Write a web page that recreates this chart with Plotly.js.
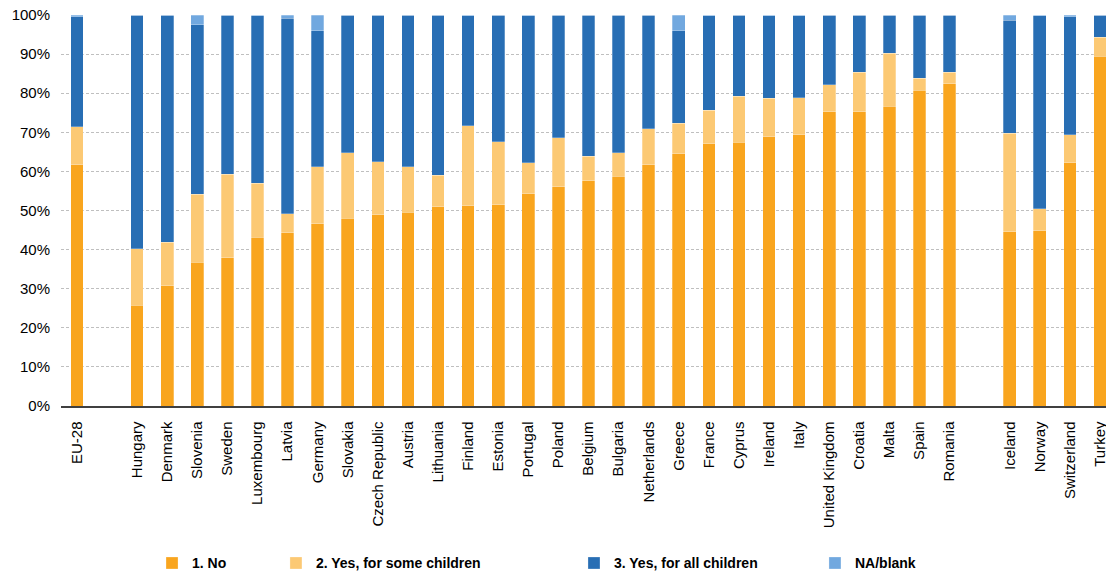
<!DOCTYPE html>
<html>
<head>
<meta charset="utf-8">
<script src="https://cdn.plot.ly/plotly-3.0.1.min.js"></script>
<style>html,body{margin:0;padding:0;background:#fff;}#chart{width:1106px;height:580px;}</style>
</head>
<body>
<div id="chart"></div>
<script>
const categories = ["EU-28", " ", "Hungary", "Denmark", "Slovenia", "Sweden", "Luxembourg", "Latvia", "Germany", "Slovakia", "Czech Republic", "Austria", "Lithuania", "Finland", "Estonia", "Portugal", "Poland", "Belgium", "Bulgaria", "Netherlands", "Greece", "France", "Cyprus", "Ireland", "Italy", "United Kingdom", "Croatia", "Malta", "Spain", "Romania", "  ", "Iceland", "Norway", "Switzerland", "Turkey"];
const seriesNames = ["1. No", "2. Yes, for some children", "3. Yes, for all children", "NA/blank"];
const valuesNo   = [61.7, null, 25.8, 30.7, 36.8, 37.9, 43.1, 44.3, 46.6, 48.0, 48.9, 49.5, 51.0, 51.2, 51.5, 54.3, 56.1, 57.6, 58.7, 61.7, 64.5, 67.1, 67.4, 68.8, 69.4, 75.2, 75.2, 76.7, 80.8, 82.4, null, 44.6, 44.8, 62.2, 89.4];
const valuesSome = [9.7, null, 14.4, 11.2, 17.3, 21.4, 13.9, 4.9, 14.6, 16.8, 13.6, 11.7, 8.0, 20.5, 16.1, 7.9, 12.5, 6.3, 6.1, 9.2, 7.8, 8.6, 11.8, 9.9, 9.5, 6.9, 10.1, 13.5, 3.0, 2.9, null, 25.1, 5.6, 7.2, 4.9];
const valuesAll  = [28.2, null, 59.8, 58.1, 43.4, 40.7, 42.8, 50.0, 34.8, 35.2, 37.5, 38.8, 41.0, 28.1, 32.4, 37.6, 31.4, 36.1, 35.2, 29.1, 23.7, 24.1, 20.8, 21.1, 20.9, 17.9, 14.7, 9.8, 16.2, 14.7, null, 28.9, 49.4, 30.2, 5.7];
const valuesNA   = [0.4, null, 0, 0, 2.5, 0, 0.2, 0.8, 4.0, 0, 0, 0, 0, 0.2, 0, 0.2, 0, 0, 0, 0, 4.0, 0.2, 0, 0.2, 0.2, 0, 0, 0, 0, 0, null, 1.4, 0.2, 0.4, 0];
const yTickVals = [0, 10, 20, 30, 40, 50, 60, 70, 80, 90, 100];
const yTickText = ["0%", "10%", "20%", "30%", "40%", "50%", "60%", "70%", "80%", "90%", "100%"];

const colors = ["#F9A51E", "#FCC974", "#286EB4", "#71A8DF"];
const allSeries = [valuesNo, valuesSome, valuesAll, valuesNA];
const legendIds = ["legend", "legend2", "legend3", "legend4"];

const traces = allSeries.map((vals, i) => ({
  type: "bar",
  name: seriesNames[i],
  x: categories,
  y: vals,
  marker: {color: colors[i], line: {color: "rgba(255,255,255,0.45)", width: 0.6}},
  legend: legendIds[i],
  hoverinfo: "x+y+name"
}));

const legendFont = {family: "Liberation Sans, Arial, sans-serif", size: 14, color: "#000", weight: "bold"};
const legendX = [0.0871, 0.2057, 0.4909, 0.7215];
const layout = {
  width: 1106, height: 580,
  margin: {l: 61, r: 0, t: 15, b: 170},
  paper_bgcolor: "#fff", plot_bgcolor: "#fff",
  barmode: "stack",
  bargap: 0.58,
  font: {family: "Liberation Sans, Arial, sans-serif", size: 15, color: "#000"},
  xaxis: {
    type: "category",
    range: [-0.53, 34.2],
    tickangle: -90,
    showline: true, linecolor: "#404040", linewidth: 1.5,
    ticks: "", showgrid: false,
    ticklabelstandoff: 8,
    tickfont: {size: 15, color: "#000"}
  },
  yaxis: {
    range: [0, 100],
    tickmode: "array",
    tickvals: yTickVals,
    ticktext: yTickText,
    showgrid: true, gridcolor: "#BFBFBF", griddash: "3px,2px", gridwidth: 1,
    zeroline: false, showline: false, ticks: "",
    ticklabelstandoff: 10,
    tickfont: {size: 15, color: "#000"}
  },
  showlegend: true
};
legendIds.forEach((id, i) => {
  layout[id] = {x: legendX[i], xanchor: "left", y: -0.4025, yanchor: "middle", orientation: "h", font: legendFont, bgcolor: "rgba(0,0,0,0)", borderwidth: 0};
});

Plotly.newPlot("chart", traces, layout, {displayModeBar: false, staticPlot: true});
</script>
</body>
</html>
